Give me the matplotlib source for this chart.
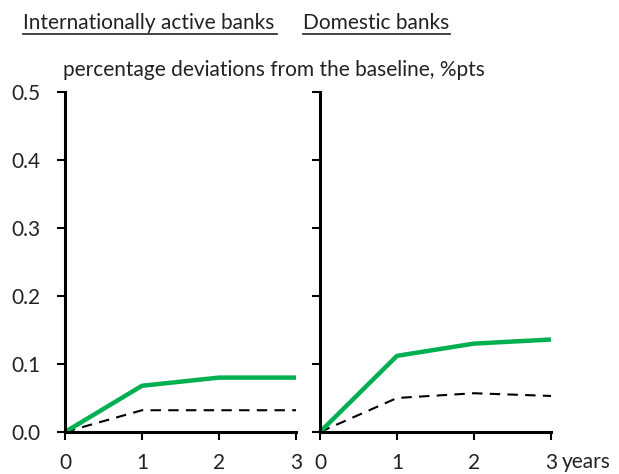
import matplotlib.pyplot as plt
from matplotlib.lines import Line2D

plt.rcParams['font.family'] = ['Lato', 'DejaVu Sans']

years = [0, 1, 2, 3]

# Internationally active banks
intl_green = [0.0, 0.068, 0.080, 0.080]
intl_dashed = [0.0, 0.032, 0.032, 0.032]

# Domestic banks
dom_green = [0.0, 0.112, 0.130, 0.136]
dom_dashed = [0.0, 0.050, 0.057, 0.053]

yticks = [0.0, 0.1, 0.2, 0.3, 0.4, 0.5]

W, H = 619, 474
fig = plt.figure(figsize=(W / 100, H / 100), dpi=100)

green = '#00b050'
txt = '#222222'

ax1 = fig.add_axes([65 / W, 1 - 432 / H, 231 / W, 340 / H])
ax2 = fig.add_axes([320 / W, 1 - 432 / H, 231 / W, 340 / H])

for ax, g, d in [(ax1, intl_green, intl_dashed), (ax2, dom_green, dom_dashed)]:
    ax.plot(years, d, color='black', lw=1.5, ls=(0, (5, 3.5)), clip_on=False)
    ax.plot(years, g, color=green, lw=3.2, clip_on=False, solid_capstyle='butt')
    ax.set_xlim(0, 3)
    ax.set_ylim(0, 0.5)
    ax.set_xticks(years)
    ax.set_yticks(yticks)
    for s in ['top', 'right']:
        ax.spines[s].set_visible(False)
    for s in ['left', 'bottom']:
        ax.spines[s].set_linewidth(2.2)
    ax.tick_params(direction='out', width=1.5, length=6, labelsize=15,
                   colors='black', labelcolor=txt, pad=6)
    ax.tick_params(axis='x', pad=9)
    ax.patch.set_alpha(0)

ax1.set_yticklabels([f'{v:.1f}' for v in yticks])
ax1.tick_params(axis='y', pad=12)
ax2.set_yticklabels([])

# panel titles with underlines
fig.text(23 / W, 1 - 23 / H, 'Internationally active banks', fontsize=15,
         color=txt, va='center', ha='left')
fig.add_artist(Line2D([23 / W, 277 / W], [1 - 34 / H, 1 - 34 / H],
                      color=txt, lw=1.2))
fig.text(303 / W, 1 - 23 / H, 'Domestic banks', fontsize=15,
         color=txt, va='center', ha='left')
fig.add_artist(Line2D([303 / W, 450 / W], [1 - 34 / H, 1 - 34 / H],
                      color=txt, lw=1.2))

fig.text(63 / W, 1 - 70 / H, 'percentage deviations from the baseline, %pts',
         fontsize=15, color=txt, va='center', ha='left')
fig.text(562 / W, 1 - 462 / H, 'years', fontsize=15, color=txt,
         va='center', ha='left')

fig.savefig('out.png', dpi=100)
